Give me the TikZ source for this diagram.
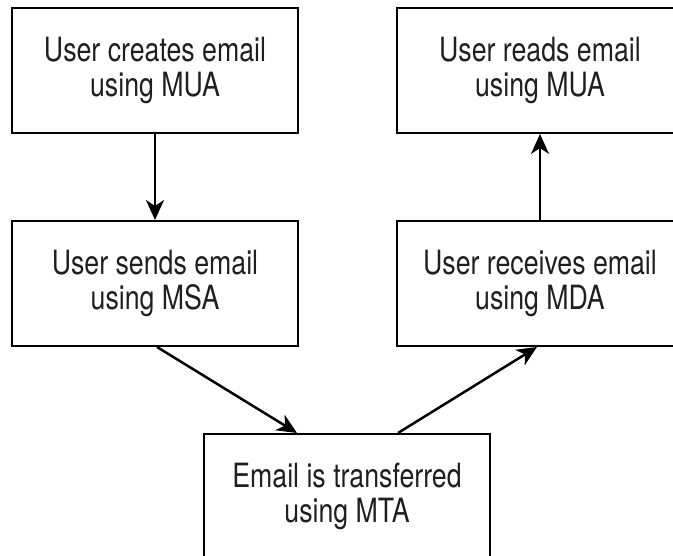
\documentclass[tikz,border=0pt]{standalone}
\usepackage{fontspec}
\setmainfont{TeX Gyre Heros}[FakeStretch=0.8]
\usetikzlibrary{arrows.meta}
\begin{document}
\begin{tikzpicture}[x=1pt,y=-1pt,
  box/.style={draw, line width=2pt, minimum width=286pt, minimum height=125pt,
    align=center, inner sep=0pt, text=black!88,
    font=\fontsize{33.4}{35}\selectfont},
  conn/.style={line width=2.5pt, -{Stealth[length=20pt,width=18pt,inset=6pt]}}]
\useasboundingbox (0,0) rectangle (673,556);
\clip (0,0) rectangle (673,556);
\node[box] (tl) at (155,70.5) {User creates email\\using MUA};
\node[box] (tr) at (540,70.5) {User reads email\\using MUA};
\node[box] (ml) at (155,283.5) {User sends email\\using MSA};
\node[box] (mr) at (540,283.5) {User receives email\\using MDA};
\node[box] (bt) at (347,496.5) {Email is transferred\\using MTA};
\draw[conn] (tl.south) -- (ml.north);
\draw[conn] (mr.north) -- (tr.south);
\draw[conn] ([xshift=2pt]ml.south) -- ([xshift=-50pt]bt.north);
\draw[conn] ([xshift=51pt]bt.north) -- ([xshift=-3pt]mr.south);
\end{tikzpicture}
\end{document}
